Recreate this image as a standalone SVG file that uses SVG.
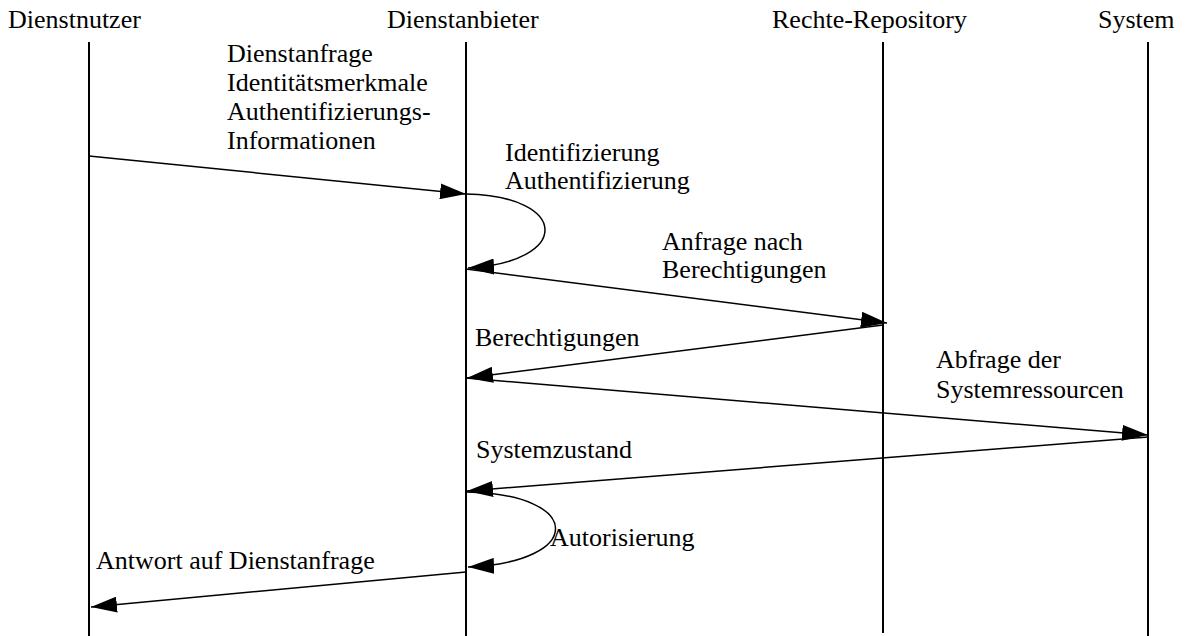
<svg xmlns="http://www.w3.org/2000/svg" width="1188" height="636" viewBox="0 0 1188 636">
  <style>
    text { font-family: "Liberation Serif", "Times New Roman", serif; font-size: 26px; fill: #000; }
    .life { stroke: #000; stroke-width: 2; fill: none; }
    .msg { stroke: #000; stroke-width: 1.5; fill: none; marker-end: url(#arrow); }
  </style>
  <defs>
    <marker id="arrow" markerUnits="userSpaceOnUse" markerWidth="28" markerHeight="16" refX="26" refY="8" orient="auto">
      <path d="M0,0 L26,8 L0,16 z" fill="#000"/>
    </marker>
  </defs>

  <rect width="1188" height="636" fill="#fff"/>

  <!-- participants with their lifelines -->
  <g id="dienstnutzer">
    <text x="8" y="28">Dienstnutzer</text>
    <line class="life" x1="89" y1="42" x2="89" y2="636"/>
  </g>
  <g id="dienstanbieter">
    <text x="387" y="28">Dienstanbieter</text>
    <line class="life" x1="466" y1="42" x2="466" y2="636"/>
  </g>
  <g id="rechte-repository">
    <text x="772" y="28">Rechte-Repository</text>
    <line class="life" x1="883" y1="42" x2="883" y2="633"/>
  </g>
  <g id="system">
    <text x="1098" y="28">System</text>
    <line class="life" x1="1148" y1="42" x2="1148" y2="636"/>
  </g>

  <!-- messages -->
  <g id="connectors">
    <path class="msg" d="M89,156 L466,194"/>
    <path class="msg" d="M466,194 C570,196 572,262 468,268"/>
    <path class="msg" d="M466,269 L887,323"/>
    <path class="msg" d="M883,325 L467,378"/>
    <path class="msg" d="M466,378 L1148,435"/>
    <path class="msg" d="M1148,437 L467,491"/>
    <path class="msg" d="M466,492 C585,494 585,562 468,567"/>
    <path class="msg" d="M466,572 L91,607"/>
  </g>

  <!-- message labels -->
  <g id="labels">
    <text x="227" y="62">Dienstanfrage</text>
    <text x="227" y="91">Identitätsmerkmale</text>
    <text x="227" y="120">Authentifizierungs-</text>
    <text x="227" y="149">Informationen</text>
    <text x="505" y="161">Identifizierung</text>
    <text x="505" y="189">Authentifizierung</text>
    <text x="662" y="250">Anfrage nach</text>
    <text x="662" y="278">Berechtigungen</text>
    <text x="475" y="346">Berechtigungen</text>
    <text x="936" y="368">Abfrage der</text>
    <text x="936" y="398">Systemressourcen</text>
    <text x="476" y="458">Systemzustand</text>
    <text x="550" y="546">Autorisierung</text>
    <text x="96" y="569">Antwort auf Dienstanfrage</text>
  </g>
</svg>
